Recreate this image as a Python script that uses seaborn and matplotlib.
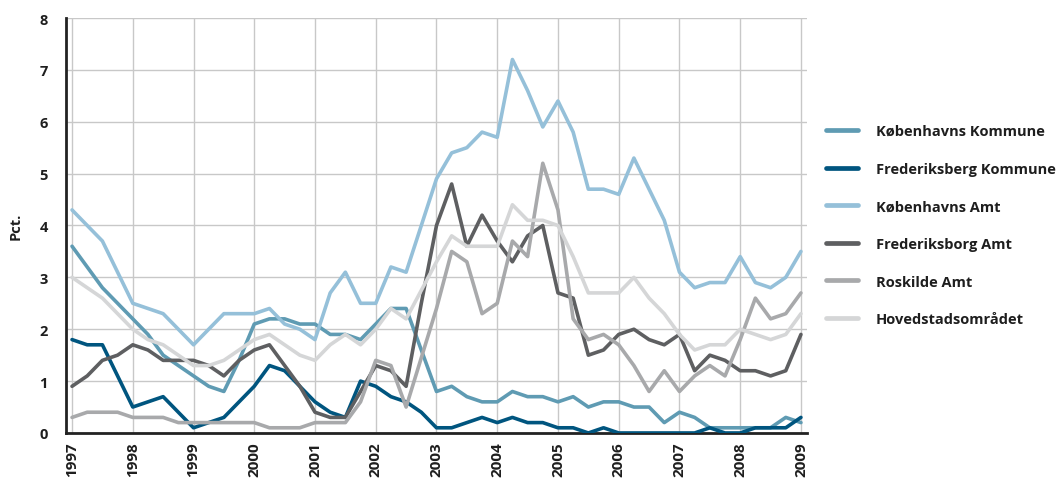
import numpy as np
import pandas as pd
import matplotlib
matplotlib.use("Agg")
import matplotlib.pyplot as plt
import seaborn as sns

# Quarterly observations 1997Q1 .. 2009Q1
quarters = [1997 + 0.25 * i for i in range(49)]

kbh_kommune = [3.6, 3.2, 2.8, 2.5, 2.2, 1.9, 1.5, 1.3, 1.1, 0.9, 0.8, 1.4,
               2.1, 2.2, 2.2, 2.1, 2.1, 1.9, 1.9, 1.8, 2.1, 2.4, 2.4, 1.6,
               0.8, 0.9, 0.7, 0.6, 0.6, 0.8, 0.7, 0.7, 0.6, 0.7, 0.5, 0.6,
               0.6, 0.5, 0.5, 0.2, 0.4, 0.3, 0.1, 0.1, 0.1, 0.1, 0.1, 0.3, 0.2]
frb_kommune = [1.8, 1.7, 1.7, 1.1, 0.5, 0.6, 0.7, 0.4, 0.1, 0.2, 0.3, 0.6,
               0.9, 1.3, 1.2, 0.9, 0.6, 0.4, 0.3, 1.0, 0.9, 0.7, 0.6, 0.4,
               0.1, 0.1, 0.2, 0.3, 0.2, 0.3, 0.2, 0.2, 0.1, 0.1, 0.0, 0.1,
               0.0, 0.0, 0.0, 0.0, 0.0, 0.0, 0.1, 0.0, 0.0, 0.1, 0.1, 0.1, 0.3]
kbh_amt = [4.3, 4.0, 3.7, 3.1, 2.5, 2.4, 2.3, 2.0, 1.7, 2.0, 2.3, 2.3,
           2.3, 2.4, 2.1, 2.0, 1.8, 2.7, 3.1, 2.5, 2.5, 3.2, 3.1, 4.0,
           4.9, 5.4, 5.5, 5.8, 5.7, 7.2, 6.6, 5.9, 6.4, 5.8, 4.7, 4.7,
           4.6, 5.3, 4.7, 4.1, 3.1, 2.8, 2.9, 2.9, 3.4, 2.9, 2.8, 3.0, 3.5]
frb_amt = [0.9, 1.1, 1.4, 1.5, 1.7, 1.6, 1.4, 1.4, 1.4, 1.3, 1.1, 1.4,
           1.6, 1.7, 1.3, 0.9, 0.4, 0.3, 0.3, 0.8, 1.3, 1.2, 0.9, 2.5,
           4.0, 4.8, 3.6, 4.2, 3.7, 3.3, 3.8, 4.0, 2.7, 2.6, 1.5, 1.6,
           1.9, 2.0, 1.8, 1.7, 1.9, 1.2, 1.5, 1.4, 1.2, 1.2, 1.1, 1.2, 1.9]
roskilde_amt = [0.3, 0.4, 0.4, 0.4, 0.3, 0.3, 0.3, 0.2, 0.2, 0.2, 0.2, 0.2,
                0.2, 0.1, 0.1, 0.1, 0.2, 0.2, 0.2, 0.6, 1.4, 1.3, 0.5, 1.45,
                2.4, 3.5, 3.3, 2.3, 2.5, 3.7, 3.4, 5.2, 4.3, 2.2, 1.8, 1.9,
                1.7, 1.3, 0.8, 1.2, 0.8, 1.1, 1.3, 1.1, 1.8, 2.6, 2.2, 2.3, 2.7]
hovedstad = [3.0, 2.8, 2.6, 2.3, 2.0, 1.8, 1.7, 1.5, 1.3, 1.3, 1.4, 1.6,
             1.8, 1.9, 1.7, 1.5, 1.4, 1.7, 1.9, 1.7, 2.0, 2.4, 2.2, 2.75,
             3.3, 3.8, 3.6, 3.6, 3.6, 4.4, 4.1, 4.1, 4.0, 3.4, 2.7, 2.7,
             2.7, 3.0, 2.6, 2.3, 1.9, 1.6, 1.7, 1.7, 2.0, 1.9, 1.8, 1.9, 2.3]

series_names = ["Københavns Kommune", "Frederiksberg Kommune", "Københavns Amt",
                "Frederiksborg Amt", "Roskilde Amt", "Hovedstadsområdet"]
series_values = [kbh_kommune, frb_kommune, kbh_amt, frb_amt, roskilde_amt, hovedstad]
colors = ["#5f9bb3", "#00557f", "#95c0d9", "#5e5f61", "#a8a9ab", "#d5d6d7"]

year_ticks = list(range(1997, 2010))
y_ticks = list(range(0, 9))

df = pd.concat([pd.DataFrame({"x": quarters, "Pct.": v, "serie": n})
                for n, v in zip(series_names, series_values)], ignore_index=True)

sns.set_theme(style="white")
plt.rcParams["font.family"] = ["Open Sans", "DejaVu Sans"]

fig = plt.figure(figsize=(10.57, 4.85), dpi=100)
ax = fig.add_axes([0.0624, 0.1052, 0.7011, 0.8556])

sns.lineplot(data=df, x="x", y="Pct.", hue="serie", hue_order=series_names,
             palette=colors, linewidth=2.6, ax=ax, legend=True, zorder=3)

txt_color = "#1e1e1e"
ax.set_xlim(1996.9, 2009.1)
ax.set_ylim(0, 8)
ax.set_xticks(year_ticks)
ax.set_xticklabels([str(y) for y in year_ticks], rotation=90,
                   fontsize=11, fontweight="bold", color=txt_color)
ax.set_yticks(y_ticks)
ax.set_yticklabels([str(y) for y in y_ticks], fontsize=10.5,
                   fontweight="bold", color=txt_color)
ax.grid(True, color="#c8c8c8", linewidth=1.0, zorder=0)
ax.set_axisbelow(True)
ax.tick_params(axis="y", length=0, pad=13)
ax.tick_params(axis="x", length=0, pad=6)
ax.set_xlabel("")
ax.set_ylabel("Pct.", fontsize=10.5, fontweight="bold", color=txt_color,
              labelpad=12)
for s in ["top", "right"]:
    ax.spines[s].set_visible(False)
for s in ["left", "bottom"]:
    ax.spines[s].set_color("#222222")
    ax.spines[s].set_linewidth(2.0)

leg = ax.legend(loc="upper left", bbox_to_anchor=(1.008, 0.776), frameon=False,
                prop={"size": 10.5, "weight": "bold"}, handlelength=2.2,
                handletextpad=1.22, labelspacing=1.62)
for line in leg.get_lines():
    line.set_linewidth(3.4)
for t in leg.get_texts():
    t.set_color(txt_color)

fig.savefig("out.png", dpi=100)
